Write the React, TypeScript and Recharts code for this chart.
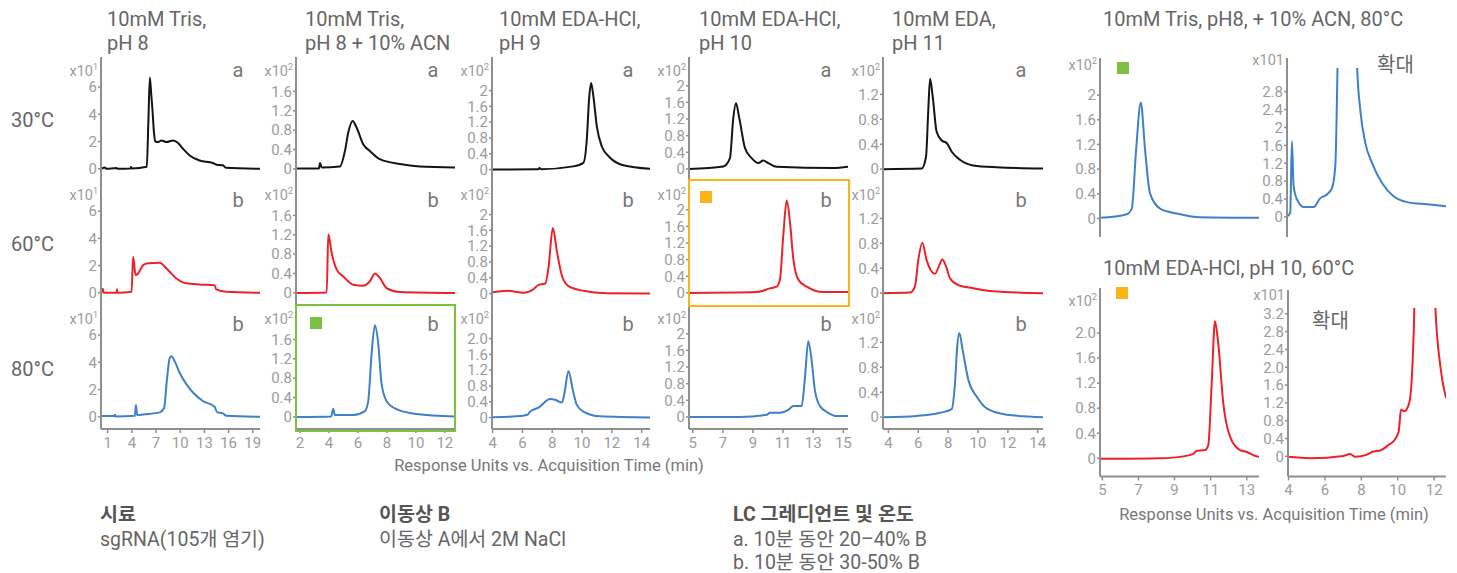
import React from "react"
import { LineChart, Line, XAxis, YAxis } from "recharts"

type Series = [number, number][]

// ---- traces: [time (min), response] ----
const tris30: Series = [[0.2, 0], [0.66, 0.1], [0.8, 0], [2.1, 0.05], [2.2, 0], [3.8, 0.02], [3.9, 0.12], [4.0, 0.02], [5.85, 0.15], [6.05, 3.5], [6.23, 6.7], [6.4, 5.5], [6.56, 4.3], [6.75, 2.6], [6.9, 2.0], [7.25, 1.96], [7.67, 2.08], [8.29, 1.96], [9.11, 2.08], [9.73, 1.89], [10.34, 1.47], [11.17, 0.98], [12.41, 0.61], [14.05, 0.42], [14.5, 0.3], [15.3, 0.25], [15.7, 0.07], [19.9, 0]]
const tris60: Series = [[0.2, 0], [0.4, 0.3], [0.5, 0], [2.1, 0], [2.15, 0.25], [2.2, 0], [3.96, 0.07], [4.16, 2.65], [4.46, 1.3], [4.78, 1.42], [5.4, 2.03], [6.02, 2.16], [7.46, 2.2], [8.29, 1.79], [9.53, 1.05], [10.76, 0.69], [12.41, 0.61], [14.26, 0.56], [14.47, 0.25], [15.7, 0.07], [19.9, 0]]
const tris80: Series = [[0.2, 0.05], [1.8, 0.05], [1.9, 0.15], [2.0, 0.02], [4.37, 0.07], [4.5, 0.86], [4.66, 0.12], [5.4, 0.17], [7.46, 0.32], [7.99, 0.62], [8.37, 2.84], [8.7, 4.32], [8.91, 4.44], [9.32, 4.07], [9.94, 3.21], [10.76, 2.4], [11.58, 1.78], [12.82, 1.16], [14.26, 0.74], [14.6, 0.32], [15.3, 0.25], [15.7, 0.07], [19.9, 0]]

const trisAcn30: Series = [[1.72, 0.01], [3.3, 0.01], [3.38, 0.12], [3.5, 0.03], [4.75, 0.05], [5.1, 0.37], [5.33, 0.75], [5.63, 0.99], [5.91, 0.85], [6.36, 0.51], [6.82, 0.37], [7.51, 0.2], [8.89, 0.1], [10.27, 0.05], [12.7, 0.03]]
const trisAcn60: Series = [[1.72, 0], [3.84, 0.01], [3.95, 1.21], [4.18, 0.83], [4.53, 0.48], [4.98, 0.34], [5.67, 0.17], [6.36, 0.15], [6.82, 0.24], [7.17, 0.4], [7.51, 0.31], [7.97, 0.1], [8.89, 0.02], [12.7, 0]]
const trisAcn80: Series = [[1.72, 0], [4.15, 0.01], [4.29, 0.17], [4.4, 0.04], [5.67, 0.04], [6.48, 0.12], [6.71, 0.33], [6.94, 1.3], [7.17, 1.89], [7.4, 1.51], [7.63, 0.68], [7.97, 0.33], [8.66, 0.16], [10.04, 0.06], [12.7, 0.01]]

const eda9_30: Series = [[3.96, 0], [7.05, 0.01], [7.15, 0.04], [7.25, 0.01], [9.42, 0.08], [10.09, 0.17], [10.32, 0.76], [10.47, 1.77], [10.61, 2.19], [10.76, 1.86], [10.99, 1.1], [11.32, 0.59], [11.88, 0.3], [12.77, 0.11], [14.56, 0.02]]
const eda9_60: Series = [[3.96, 0.03], [4.96, 0.07], [6.08, 0.02], [6.74, 0.11], [7.08, 0.22], [7.53, 0.25], [7.75, 0.66], [8.04, 1.66], [8.31, 1.08], [8.65, 0.45], [9.09, 0.19], [10.09, 0.07], [11.66, 0.01], [14.56, 0]]
const eda9_80: Series = [[3.96, 0.01], [5.63, 0.03], [6.34, 0.07], [6.52, 0.15], [7.08, 0.25], [7.86, 0.47], [8.2, 0.45], [8.65, 0.38], [8.8, 0.57], [9.09, 1.18], [9.38, 0.7], [9.65, 0.32], [10.09, 0.15], [11.21, 0.03], [14.56, 0]]

const eda10_30: Series = [[4.75, 0], [7.03, 0.06], [7.47, 0.26], [7.69, 1.22], [7.87, 1.58], [8.09, 1.22], [8.47, 0.5], [8.91, 0.26], [9.35, 0.14], [9.68, 0.2], [10.02, 0.14], [10.57, 0.05], [14.33, 0.02], [15.31, 0.05]]
const eda10_60: Series = [[4.75, 0], [9.25, 0.02], [10.13, 0.11], [10.57, 0.15], [10.79, 0.32], [11.01, 1.37], [11.24, 2.22], [11.46, 1.69], [11.68, 0.81], [12.01, 0.32], [12.57, 0.15], [13.67, 0.02], [15.31, 0.02]]
const eda10_80: Series = [[4.75, 0], [8.14, 0], [9.91, 0.05], [10.13, 0.1], [10.79, 0.1], [11.34, 0.17], [11.68, 0.26], [12.23, 0.26], [12.45, 0.94], [12.67, 1.82], [12.9, 1.34], [13.12, 0.62], [13.45, 0.26], [14.0, 0.1], [14.56, 0.02], [15.31, 0.02]]

const eda11_30: Series = [[3.64, 0], [6.23, 0.01], [6.52, 0.2], [6.67, 0.94], [6.79, 1.45], [6.97, 1.16], [7.23, 0.6], [7.57, 0.46], [7.9, 0.42], [8.24, 0.28], [8.79, 0.15], [9.68, 0.06], [11.25, 0.03], [14.35, 0.01]]
const eda11_60: Series = [[3.64, 0], [5.45, 0.01], [5.78, 0.11], [6.0, 0.53], [6.27, 0.81], [6.56, 0.53], [7.12, 0.31], [7.41, 0.45], [7.61, 0.54], [7.86, 0.43], [8.12, 0.24], [8.68, 0.13], [9.68, 0.08], [11.02, 0.03], [14.35, 0]]
const eda11_80: Series = [[3.64, 0], [5.9, 0.02], [7.46, 0.07], [8.24, 0.13], [8.46, 0.55], [8.61, 1.14], [8.75, 1.35], [8.97, 1.08], [9.35, 0.6], [9.91, 0.33], [10.58, 0.14], [11.92, 0.04], [14.35, 0]]

// right side: Tris + ACN 80°C and EDA-HCl pH 10 60°C, full and zoomed (x10 units)
const trisAcnFull: Series = [[5, 0.01], [6.43, 0.07], [6.7, 0.16], [6.93, 1.11], [7.18, 1.88], [7.41, 1.11], [7.67, 0.41], [8.21, 0.16], [9.1, 0.08], [10.35, 0.02], [13.5, 0.01]]
const trisAcnZoom: Series = [[3.9, 0.01], [4.07, 0.09], [4.16, 1.69], [4.25, 0.69], [4.43, 0.39], [4.78, 0.22], [5.31, 0.22], [5.66, 0.42], [6.01, 0.5], [6.28, 0.65], [6.45, 1.13], [6.57, 3.4], [6.75, 10], [6.95, 17], [7.1, 18.8], [7.3, 14], [7.48, 6], [7.6, 3.4], [7.77, 2.4], [8.04, 1.65], [8.39, 1.21], [8.92, 0.76], [9.53, 0.46], [10.24, 0.33], [11.3, 0.28], [12.3, 0.24]]
const edaHclFull: Series = [[4.87, -0.01], [8.19, 0], [9.48, 0.03], [10.04, 0.07], [10.23, 0.12], [10.69, 0.13], [10.87, 0.21], [11.06, 1.2], [11.24, 2.19], [11.42, 1.84], [11.7, 0.88], [12.07, 0.35], [12.63, 0.13], [13.0, 0.1], [13.46, 0.04], [13.68, 0.02]]
const edaHclZoom: Series = [[3.97, -0.01], [5.2, -0.04], [7.02, 0.01], [7.39, 0.05], [7.67, -0.01], [8.31, 0.04], [8.67, 0.11], [9.04, 0.13], [9.5, 0.26], [9.77, 0.34], [10.05, 0.56], [10.18, 1.05], [10.36, 1.01], [10.6, 1.16], [10.73, 1.5], [10.84, 2.39], [10.91, 3.4], [11.05, 12], [11.24, 21.9], [11.45, 17], [11.75, 8], [12.06, 3.4], [12.34, 2.02], [12.65, 1.31]]

// ---- axes ----
const COL_TITLES = [
  ["10mM Tris,", "pH 8"],
  ["10mM Tris,", "pH 8 + 10% ACN"],
  ["10mM EDA-HCl,", "pH 9"],
  ["10mM EDA-HCl,", "pH 10"],
  ["10mM EDA,", "pH 11"],
]
const ROW_LABELS = ["30°C", "60°C", "80°C"]
const PANEL_TAGS = ["a", "b", "b"]
const X_TICKS = [
  [1, 4, 7, 10, 13, 16, 19],
  [2, 4, 6, 8, 10, 12],
  [4, 6, 8, 10, 12, 14],
  [5, 7, 9, 11, 13, 15],
  [4, 6, 8, 10, 12, 14],
]
const Y_TICKS = [
  [0, 2, 4, 6],
  [0, 0.4, 0.8, 1.2, 1.6],
  [0, 0.4, 0.8, 1.2, 1.6, 2],
  [0, 0.4, 0.8, 1.2, 1.6, 2],
  [0, 0.4, 0.8, 1.2],
]
const UNIT_EXP = ["1", "2", "2", "2", "2"]
const GRID_SERIES = [
  [tris30, tris60, tris80],
  [trisAcn30, trisAcn60, trisAcn80],
  [eda9_30, eda9_60, eda9_80],
  [eda10_30, eda10_60, eda10_80],
  [eda11_30, eda11_60, eda11_80],
]
const RIGHT_TICKS_FULL = [0, 0.4, 0.8, 1.2, 1.6, 2]
const RIGHT_TICKS_ZOOM_A = [0, 0.4, 0.8, 1.2, 1.6, 2, 2.4, 2.8]
const RIGHT_TICKS_ZOOM_B = [0, 0.4, 0.8, 1.2, 1.6, 2, 2.4, 2.8, 3.2]
const RIGHT_X_FULL = [5, 7, 9, 11, 13]
const RIGHT_X_ZOOM = [4, 6, 8, 10, 12]

const AXIS = "#8f8f8f"
const TICK = "#9c9c9c"
const TEXT = "#666"
const BLACK = "#141414"
const RED = "#ec2227"
const BLUE = "#3f80c6"
const GREEN = "#7cc142"
const ORANGE = "#fbb416"
const FONT = "Roboto, 'Noto Sans CJK KR', sans-serif"
const YW = 44
const PAD = 10
const TICK_FS = 15

// layout of the 5x3 grid (plot rects)
const COLS = [
  { left: 101, right: 260, xDomain: [0.17, 19.9], yDomain: [-0.9, 8.21] },
  { left: 296, right: 455, xDomain: [1.72, 12.7], yDomain: [-0.25, 2.31] },
  { left: 492, right: 650, xDomain: [3.96, 14.56], yDomain: [-0.29, 2.85] },
  { left: 689, right: 848, xDomain: [4.75, 15.31], yDomain: [-0.29, 2.69] },
  { left: 883, right: 1043, xDomain: [3.64, 14.35], yDomain: [-0.19, 1.8] },
]
const ROW_TOPS = [57, 181, 305]
const ROW_H = 124
const ROW_COLORS = [BLACK, RED, BLUE]

function Txt({ x, b, size = 20, color = TEXT, weight = 400, anchor = "start", children }: any) {
  const shift = anchor === "middle" ? "translateX(-50%)" : anchor === "end" ? "translateX(-100%)" : "none"
  return (
    <div style={{ position: "absolute", left: x, top: b - 0.84 * size, fontSize: size, lineHeight: `${size}px`, color, fontWeight: weight, whiteSpace: "nowrap", transform: shift }}>
      {children}
    </div>
  )
}

function Unit({ x, b, exp, plain }: { x: number; b: number; exp?: string; plain?: string }) {
  return (
    <Txt x={x - 3} b={b} size={14.5} color={TICK} anchor="end">
      {plain ?? (
        <>
          x10<sup style={{ fontSize: 9, verticalAlign: "6px" }}>{exp}</sup>
        </>
      )}
    </Txt>
  )
}

function Panel({ left, top, w, h, series, color, xDomain, yDomain, yTicks, xTicks, oneDecimal }: any) {
  const pts = (series as Series).map(([t, v]) => ({ t, v }))
  const xh = xTicks ? 30 : 0
  const fmt = (v: number) => (v === 0 ? "0" : oneDecimal ? v.toFixed(1) : String(v))
  return (
    <div style={{ position: "absolute", left: left - YW, top: top - PAD }}>
      <LineChart width={YW + w + PAD} height={h + xh + PAD + 2} data={pts} margin={{ top: PAD, right: PAD, bottom: 2, left: 0 }}>
        <XAxis
          type="number"
          dataKey="t"
          domain={xDomain}
          allowDataOverflow
          ticks={xTicks ?? []}
          interval={0}
          height={xh}
          tick={xTicks ? { fill: TICK, fontSize: TICK_FS } : false}
          tickLine={xTicks ? { stroke: AXIS, strokeWidth: 1.5 } : false}
          tickSize={4}
          tickMargin={4}
          axisLine={{ stroke: AXIS, strokeWidth: 2 }}
        />
        <YAxis
          type="number"
          domain={yDomain}
          allowDataOverflow
          ticks={yTicks}
          interval={0}
          width={YW}
          tickFormatter={fmt}
          tick={{ fill: TICK, fontSize: TICK_FS }}
          tickLine={{ stroke: AXIS, strokeWidth: 1.5 }}
          tickSize={3}
          tickMargin={1}
          axisLine={{ stroke: AXIS, strokeWidth: 2 }}
        />
        <Line type="monotone" dataKey="v" stroke={color} strokeWidth={2} dot={false} isAnimationActive={false} />
      </LineChart>
    </div>
  )
}

function Box({ x, y, w, h, color }: any) {
  return <div style={{ position: "absolute", left: x, top: y, width: w, height: h, border: `2.5px solid ${color}`, boxSizing: "border-box" }} />
}

function Square({ x, y, color }: any) {
  return <div style={{ position: "absolute", left: x, top: y, width: 12, height: 12, background: color }} />
}

function AxisExt({ x, y1, y2 }: any) {
  return <div style={{ position: "absolute", left: x - 1, top: y1, width: 2, height: y2 - y1, background: AXIS }} />
}

export default function App() {
  return (
    <div style={{ position: "absolute", left: 0, top: 0, width: 1457, height: 573, background: "#fff", fontFamily: FONT, overflow: "hidden" }}>
      {COL_TITLES.map((lines, c) => (
        <React.Fragment key={`t${c}`}>
          <Txt x={[107, 305, 499, 699, 892][c]} b={26}>{lines[0]}</Txt>
          <Txt x={[107, 305, 499, 699, 892][c]} b={50}>{lines[1]}</Txt>
        </React.Fragment>
      ))}
      {ROW_LABELS.map((r, i) => (
        <Txt key={r} x={11} b={[126.7, 251, 376][i]}>{r}</Txt>
      ))}

      {COLS.map((col, c) =>
        ROW_TOPS.map((top, r) => (
          <React.Fragment key={`p${c}${r}`}>
            <Panel
              left={col.left}
              top={top}
              w={col.right - col.left}
              h={ROW_H}
              series={GRID_SERIES[c][r]}
              color={ROW_COLORS[r]}
              xDomain={col.xDomain}
              yDomain={col.yDomain}
              yTicks={Y_TICKS[c]}
              xTicks={r === 2 ? X_TICKS[c] : undefined}
              oneDecimal={c === 2 && r === 2}
            />
            <Unit x={col.left} b={top + 15} exp={UNIT_EXP[c]} />
            <Txt x={col.right - 22} b={top + (r === 0 ? 20 : 26)} color="#777" anchor="middle">{PANEL_TAGS[r]}</Txt>
          </React.Fragment>
        ))
      )}

      <Txt x={549} b={472} size={16.5} color="#777" anchor="middle">Response Units vs. Acquisition Time (min)</Txt>

      {/* right: Tris + ACN, 80°C */}
      <Txt x={1103} b={26}>10mM Tris, pH8, + 10% ACN, 80°C</Txt>
      <Panel left={1100} top={58} w={159} h={179} series={trisAcnFull} color={BLUE} xDomain={[5, 13.5]} yDomain={[-0.3, 2.6]} yTicks={RIGHT_TICKS_FULL} />
      <Unit x={1100} b={66.5} exp="2" />
      <Panel left={1287} top={68.3} w={159} h={169} series={trisAcnZoom} color={BLUE} xDomain={[3.9, 12.3]} yDomain={[-0.45, 3.33]} yTicks={RIGHT_TICKS_ZOOM_A} />
      <AxisExt x={1287} y1={58} y2={69} />
      <Unit x={1287} b={66.5} plain="x101" />
      <Txt x={1377} b={71.7}>확대</Txt>

      {/* right: EDA-HCl pH 10, 60°C */}
      <Txt x={1103} b={275}>10mM EDA-HCl, pH 10, 60°C</Txt>
      <Panel left={1100} top={288.3} w={159} h={188.4} series={edaHclFull} color={RED} xDomain={[4.87, 13.68]} yDomain={[-0.29, 2.72]} yTicks={RIGHT_TICKS_FULL} xTicks={RIGHT_X_FULL} oneDecimal />
      <Unit x={1100} b={302} exp="2" />
      <Panel left={1288} top={308.3} w={158} h={168.4} series={edaHclZoom} color={RED} xDomain={[3.97, 12.65]} yDomain={[-0.45, 3.33]} yTicks={RIGHT_TICKS_ZOOM_B} xTicks={RIGHT_X_ZOOM} oneDecimal />
      <AxisExt x={1288} y1={290} y2={309} />
      <Unit x={1288} b={301} plain="x101" />
      <Txt x={1312} b={328}>확대</Txt>
      <Txt x={1274} b={521} size={16.5} color="#777" anchor="middle">Response Units vs. Acquisition Time (min)</Txt>

      {/* highlights */}
      <Box x={295} y={304} w={161} h={128} color={GREEN} />
      <Square x={310} y={317} color={GREEN} />
      <Box x={688} y={179} w={162} h={128} color={ORANGE} />
      <Square x={700} y={191} color={ORANGE} />
      <Square x={1117} y={62} color={GREEN} />
      <Square x={1116} y={287} color={ORANGE} />

      {/* footer */}
      <Txt x={100} b={521} size={19.5} weight={700} color="#555">시료</Txt>
      <Txt x={100} b={546} size={19.5}>sgRNA(105개 염기)</Txt>
      <Txt x={379} b={521} size={19.5} weight={700} color="#555">이동상 B</Txt>
      <Txt x={379} b={546} size={19.5}>이동상 A에서 2M NaCl</Txt>
      <Txt x={733} b={521} size={19.5} weight={700} color="#555">LC 그레디언트 및 온도</Txt>
      <Txt x={733} b={546} size={19.5}>a. 10분 동안 20–40% B</Txt>
      <Txt x={733} b={569} size={19.5}>b. 10분 동안 30-50% B</Txt>
    </div>
  )
}
